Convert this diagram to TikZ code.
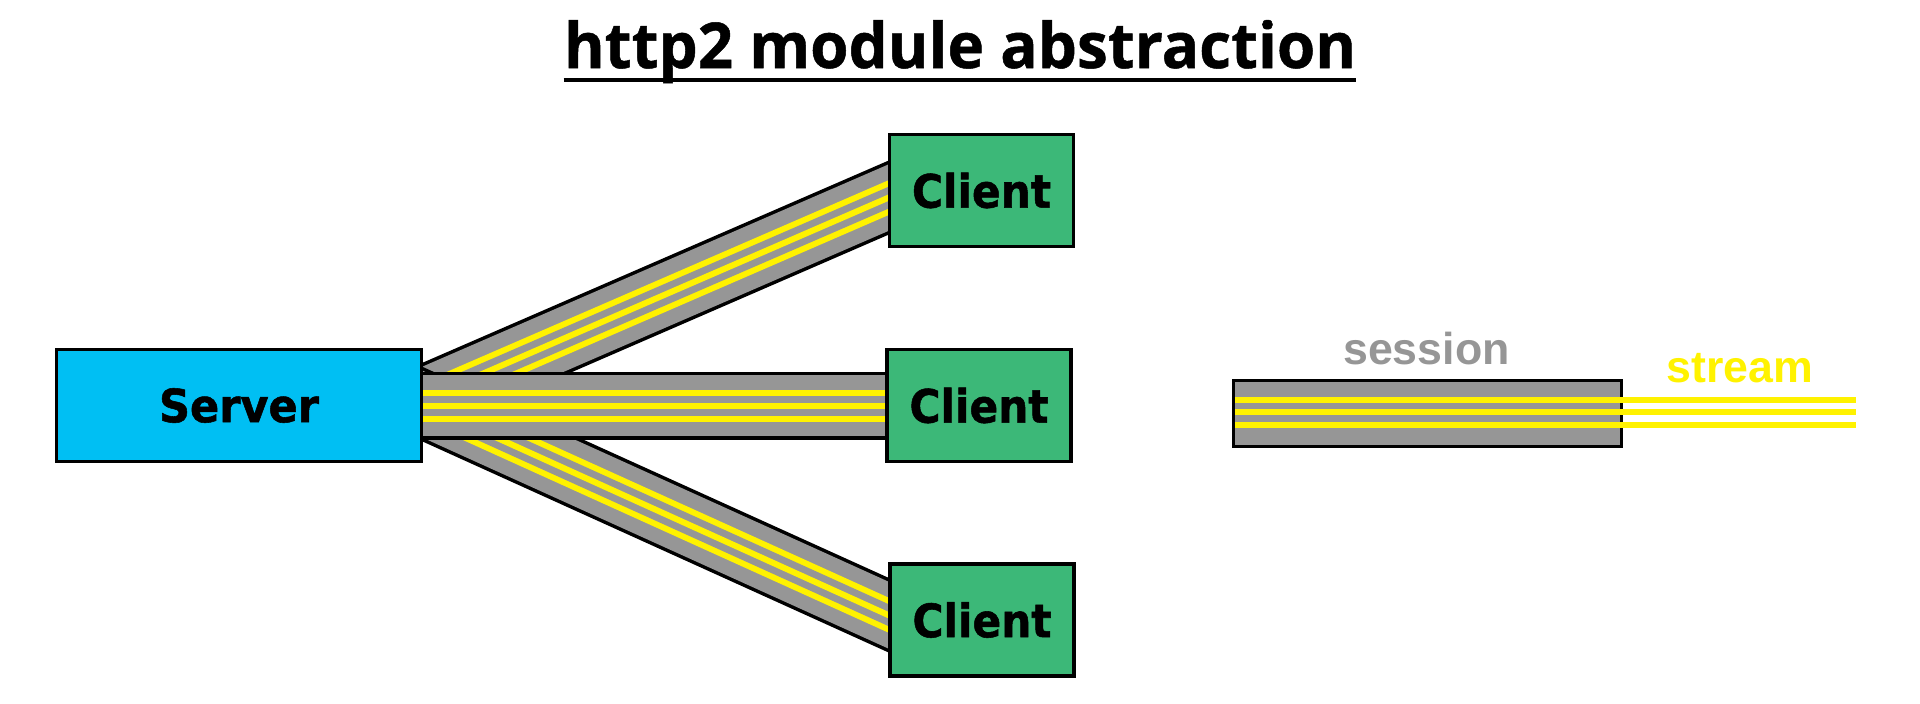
\documentclass[tikz,border=0pt]{standalone}
\usepackage{fontspec}
\usepackage{graphicx}
\setmainfont{DejaVu Sans}[BoldFeatures={FakeBold=1.2}]
\newfontfamily\titlefont{Open Sans}[BoldFeatures={FakeBold=0.8}]
\newfontfamily\legendfont{Liberation Sans}
\usetikzlibrary{calc}
\pgfdeclarelayer{bg}
\pgfsetlayers{bg,main}
\definecolor{srvcyan}{HTML}{00BFF3}
\definecolor{cligreen}{HTML}{3CB878}
\definecolor{pipegray}{HTML}{969696}
\definecolor{streamyellow}{HTML}{FFF200}
\tikzset{
  box/.style={draw=black, line width=3.6pt, rectangle, inner sep=0pt,
    minimum width=184pt, minimum height=112pt, font=\bfseries},
  serverbox/.style={box, fill=srvcyan, minimum width=365pt},
  clientbox/.style={box, fill=cligreen},
  pipeext/.style={shorten <=-25pt, shorten >=-25pt, line cap=butt},
  pipeA/.style={pipeext, draw=black, line width=68pt},
  pipeB/.style={pipeext, draw=pipegray, line width=61pt},
  pipeC/.style={pipeext, draw=streamyellow, line width=32pt},
  pipeD/.style={pipeext, draw=pipegray, line width=20pt},
  pipeE/.style={pipeext, draw=streamyellow, line width=6pt},
  streamline/.style={draw=streamyellow, line width=6pt},
  legendlabel/.style={anchor=base, inner sep=0pt,
    font={\legendfont\bfseries\fontsize{44.7pt}{50pt}\selectfont}},
}
\newcommand{\pipeconn}[2]{%
  \draw[pipeA] (#1) -- (#2);
  \draw[pipeB] (#1) -- (#2);
  \draw[pipeC] (#1) -- (#2);
  \draw[pipeD] (#1) -- (#2);
  \draw[pipeE] (#1) -- (#2);
}
\begin{document}
\begin{tikzpicture}[x=1pt,y=-1pt]
\useasboundingbox (0,0) rectangle (1920,704);

% title
\node[anchor=base, inner sep=0pt] (title) at (960,68)
  {\resizebox{792pt}{48pt}{\titlefont\bfseries http2 module abstraction}};
\draw[line width=4pt] ([yshift=-11.5pt]title.base west) -- ([yshift=-11.5pt]title.base east);

% nodes
\node[serverbox] (srv) at (239,405.5) {\resizebox{160pt}{34pt}{Server}};
\node[clientbox] (c1) at (981.5,190.5) {\resizebox{139pt}{35pt}{Client}};
\node[clientbox] (c2) at (979,405.5) {\resizebox{139pt}{35pt}{Client}};
\node[clientbox] (c3) at (982,620) {\resizebox{139pt}{35pt}{Client}};

% pipes
\begin{pgfonlayer}{bg}
  \pipeconn{[yshift=6pt]srv.east}{[yshift=-7.5pt]c1.west}
  \pipeconn{[yshift=1pt]srv.east}{[yshift=5pt]c3.west}
  \pipeconn{srv.east}{c2.west}
\end{pgfonlayer}

% legend
\node[box, fill=pipegray, minimum width=388pt, minimum height=66pt] (sess) at (1427.5,413.5) {};
\coordinate (se1) at (1856,399.5);
\coordinate (se2) at (1856,412.3);
\coordinate (se3) at (1856,425.3);
\draw[streamline, shorten <=3.6pt] (sess.west |- se1) -- (se1);
\draw[streamline, shorten <=3.6pt] (sess.west |- se2) -- (se2);
\draw[streamline, shorten <=3.6pt] (sess.west |- se3) -- (se3);
\node[legendlabel, text=pipegray] (sesslbl) at (1426.5,364) {session};
\node[legendlabel, text=streamyellow] (strlbl) at (1740,382) {stream};
\end{tikzpicture}
\end{document}
